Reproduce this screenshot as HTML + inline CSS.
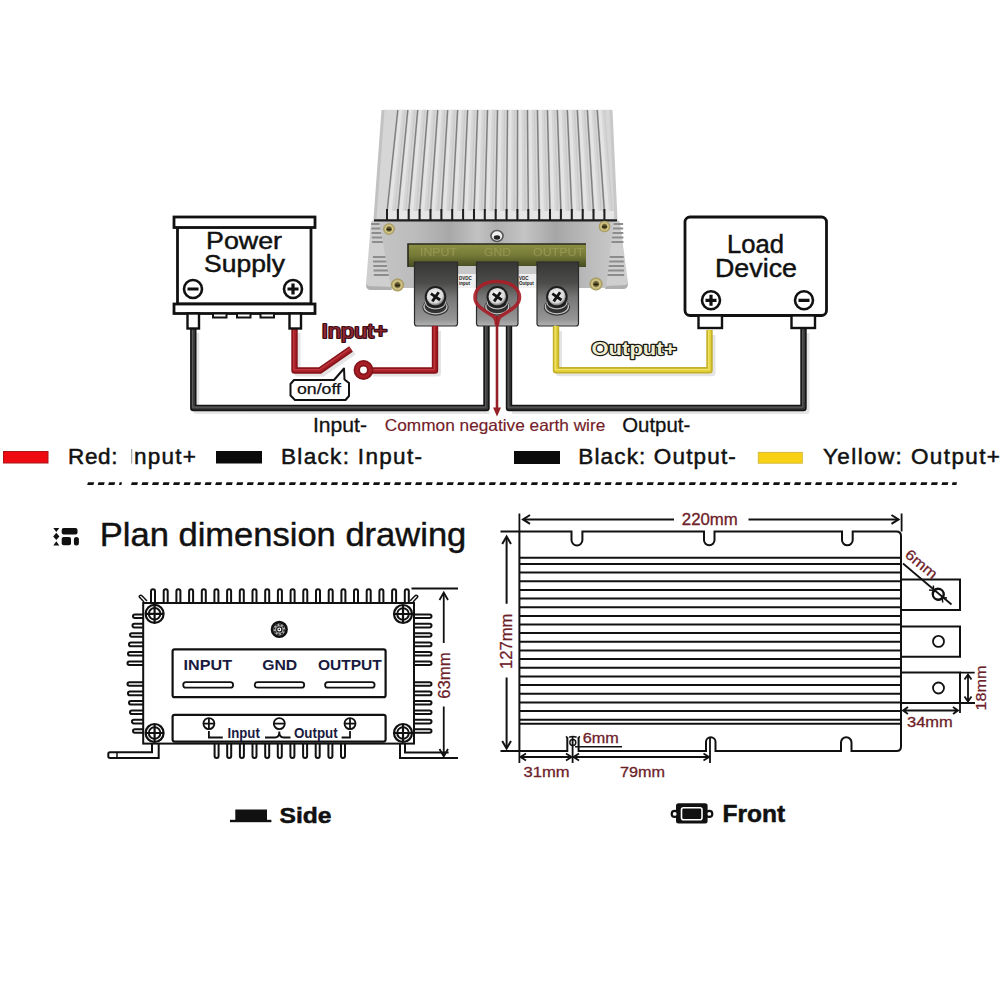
<!DOCTYPE html>
<html><head><meta charset="utf-8">
<style>
html,body{margin:0;padding:0;background:#fff;width:1000px;height:1000px;overflow:hidden}
svg{display:block}
text{font-family:"Liberation Sans",sans-serif}
</style></head>
<body>
<svg width="1000" height="1000" viewBox="0 0 1000 1000">
<defs>
  <filter id="blur1" x="-10%" y="-50%" width="120%" height="200%"><feGaussianBlur stdDeviation="0.65"/></filter>
  <linearGradient id="finG" x1="0" y1="0" x2="0" y2="1">
    <stop offset="0" stop-color="#e4e4e4"/><stop offset="1" stop-color="#dadada"/>
  </linearGradient>
  <linearGradient id="plateG" x1="0" y1="0" x2="1" y2="0">
    <stop offset="0" stop-color="#c4c4c4"/><stop offset="0.15" stop-color="#bcbcbc"/><stop offset="0.3" stop-color="#a8a8a8"/><stop offset="0.42" stop-color="#c2c2c2"/><stop offset="0.5" stop-color="#b0b0b0"/><stop offset="0.62" stop-color="#c4c4c4"/><stop offset="0.75" stop-color="#a6a6a6"/><stop offset="0.9" stop-color="#bcbcbc"/><stop offset="1" stop-color="#c8c8c8"/>
  </linearGradient>
  <linearGradient id="winG" x1="0" y1="0" x2="0" y2="1">
    <stop offset="0" stop-color="#8c9044"/><stop offset="0.5" stop-color="#747a36"/><stop offset="1" stop-color="#464a22"/>
  </linearGradient>
  <linearGradient id="brG" x1="0" y1="0" x2="0" y2="1">
    <stop offset="0" stop-color="#363634"/><stop offset="0.33" stop-color="#4c4c4a"/><stop offset="0.55" stop-color="#767676"/><stop offset="0.9" stop-color="#969696"/><stop offset="1" stop-color="#b4b4b4"/>
  </linearGradient>
  <radialGradient id="scrG" cx="0.45" cy="0.4" r="0.6">
    <stop offset="0" stop-color="#fafafa"/><stop offset="0.75" stop-color="#d8d8d8"/><stop offset="1" stop-color="#666"/>
  </radialGradient>
  <radialGradient id="goldG" cx="0.5" cy="0.5" r="0.5">
    <stop offset="0" stop-color="#4a4020"/><stop offset="0.35" stop-color="#6a6030"/><stop offset="0.6" stop-color="#d8cc90"/><stop offset="1" stop-color="#9a8a4a"/>
  </radialGradient>
  <linearGradient id="sideG" x1="0" y1="0" x2="0" y2="1">
    <stop offset="0" stop-color="#d0d0d0"/><stop offset="1" stop-color="#c0c0c0"/>
  </linearGradient>
</defs>

<g id="device">
<path d="M378,216 L371,222 L366,284 Q366,290 371,290 L392,290 L380,221 Z" fill="#cfcfcf"/>
<path d="M614,216 L620,222 L628,283 Q628,289 623,289 L605,289 L613,221 Z" fill="#cfcfcf"/>
<path d="M366,284 Q366,290 371,290 L392,290 L391,287 L368,286 Z" fill="#9a9a9a" opacity="0.6"/>
<path d="M628,283 Q628,289 623,289 L605,289 L606,286 L626,285 Z" fill="#9a9a9a" opacity="0.6"/>
<line x1="371.2" y1="224" x2="383.6" y2="224" stroke="#8c8c8c" stroke-width="2"/>
<line x1="610.5" y1="224" x2="623.1" y2="224" stroke="#8c8c8c" stroke-width="2"/>
<line x1="371.4" y1="228.5" x2="384.2" y2="228.5" stroke="#8c8c8c" stroke-width="2"/>
<line x1="610.0" y1="228.5" x2="623.2" y2="228.5" stroke="#8c8c8c" stroke-width="2"/>
<line x1="371.6" y1="233" x2="384.8" y2="233" stroke="#8c8c8c" stroke-width="2"/>
<line x1="609.4" y1="233" x2="623.3" y2="233" stroke="#8c8c8c" stroke-width="2"/>
<line x1="371.9" y1="237.5" x2="385.4" y2="237.5" stroke="#8c8c8c" stroke-width="2"/>
<line x1="608.9" y1="237.5" x2="623.4" y2="237.5" stroke="#8c8c8c" stroke-width="2"/>
<line x1="372.1" y1="242" x2="386.1" y2="242" stroke="#8c8c8c" stroke-width="2"/>
<line x1="608.4" y1="242" x2="623.4" y2="242" stroke="#8c8c8c" stroke-width="2"/>
<line x1="372.9" y1="257" x2="388.2" y2="257" stroke="#8c8c8c" stroke-width="2"/>
<line x1="606.6" y1="257" x2="623.7" y2="257" stroke="#8c8c8c" stroke-width="2"/>
<line x1="373.1" y1="261.5" x2="388.8" y2="261.5" stroke="#8c8c8c" stroke-width="2"/>
<line x1="606.0" y1="261.5" x2="623.8" y2="261.5" stroke="#8c8c8c" stroke-width="2"/>
<line x1="373.3" y1="266" x2="389.4" y2="266" stroke="#8c8c8c" stroke-width="2"/>
<line x1="605.5" y1="266" x2="623.9" y2="266" stroke="#8c8c8c" stroke-width="2"/>
<line x1="373.5" y1="270.5" x2="390.1" y2="270.5" stroke="#8c8c8c" stroke-width="2"/>
<line x1="604.9" y1="270.5" x2="624.0" y2="270.5" stroke="#8c8c8c" stroke-width="2"/>
<line x1="373.8" y1="275" x2="390.7" y2="275" stroke="#8c8c8c" stroke-width="2"/>
<line x1="604.4" y1="275" x2="624.1" y2="275" stroke="#8c8c8c" stroke-width="2"/>
<polygon points="383,109.7 611,109.7 616,220 375,220" fill="#d6d6d6"/>
<polygon points="399.0,110 402.0,110 391.6,212 388.3,212" fill="#e4e4e4"/>
<polygon points="404.3,110 405.6,110 395.4,212 394.0,212" fill="#cbcbcb"/>
<line x1="397.8" y1="110" x2="387.0" y2="212" stroke="#808080" stroke-width="1.5"/>
<rect x="388.2" y="211" width="8.2" height="8" fill="#e6e6e6"/>
<line x1="387.0" y1="209" x2="387.0" y2="220" stroke="#1e1e1e" stroke-width="2"/>
<polygon points="409.0,110 412.0,110 402.5,212 399.2,212" fill="#e4e4e4"/>
<polygon points="414.3,110 415.6,110 406.3,212 404.9,212" fill="#cbcbcb"/>
<line x1="407.8" y1="110" x2="397.9" y2="212" stroke="#808080" stroke-width="1.5"/>
<rect x="399.1" y="211" width="8.2" height="8" fill="#e6e6e6"/>
<line x1="397.9" y1="209" x2="397.9" y2="220" stroke="#1e1e1e" stroke-width="2"/>
<polygon points="418.9,110 421.9,110 413.3,212 410.0,212" fill="#e4e4e4"/>
<polygon points="424.2,110 425.5,110 417.1,212 415.7,212" fill="#cbcbcb"/>
<line x1="417.7" y1="110" x2="408.7" y2="212" stroke="#808080" stroke-width="1.5"/>
<rect x="409.9" y="211" width="8.2" height="8" fill="#e6e6e6"/>
<line x1="408.7" y1="209" x2="408.7" y2="220" stroke="#1e1e1e" stroke-width="2"/>
<polygon points="428.9,110 431.9,110 424.2,212 420.9,212" fill="#e4e4e4"/>
<polygon points="434.2,110 435.5,110 428.0,212 426.6,212" fill="#cbcbcb"/>
<line x1="427.7" y1="110" x2="419.6" y2="212" stroke="#808080" stroke-width="1.5"/>
<rect x="420.8" y="211" width="8.2" height="8" fill="#e6e6e6"/>
<line x1="419.6" y1="209" x2="419.6" y2="220" stroke="#1e1e1e" stroke-width="2"/>
<polygon points="438.9,110 441.9,110 435.1,212 431.8,212" fill="#e4e4e4"/>
<polygon points="444.2,110 445.5,110 438.9,212 437.5,212" fill="#cbcbcb"/>
<line x1="437.7" y1="110" x2="430.5" y2="212" stroke="#808080" stroke-width="1.5"/>
<rect x="431.7" y="211" width="8.2" height="8" fill="#e6e6e6"/>
<line x1="430.5" y1="209" x2="430.5" y2="220" stroke="#1e1e1e" stroke-width="2"/>
<polygon points="448.8,110 451.8,110 446.0,212 442.7,212" fill="#e4e4e4"/>
<polygon points="454.1,110 455.4,110 449.8,212 448.4,212" fill="#cbcbcb"/>
<line x1="447.6" y1="110" x2="441.4" y2="212" stroke="#808080" stroke-width="1.5"/>
<rect x="442.6" y="211" width="8.2" height="8" fill="#e6e6e6"/>
<line x1="441.4" y1="209" x2="441.4" y2="220" stroke="#1e1e1e" stroke-width="2"/>
<polygon points="458.8,110 461.8,110 456.8,212 453.5,212" fill="#e4e4e4"/>
<polygon points="464.1,110 465.4,110 460.6,212 459.2,212" fill="#cbcbcb"/>
<line x1="457.6" y1="110" x2="452.2" y2="212" stroke="#808080" stroke-width="1.5"/>
<rect x="453.4" y="211" width="8.2" height="8" fill="#e6e6e6"/>
<line x1="452.2" y1="209" x2="452.2" y2="220" stroke="#1e1e1e" stroke-width="2"/>
<polygon points="468.8,110 471.8,110 467.7,212 464.4,212" fill="#e4e4e4"/>
<polygon points="474.1,110 475.4,110 471.5,212 470.1,212" fill="#cbcbcb"/>
<line x1="467.6" y1="110" x2="463.1" y2="212" stroke="#808080" stroke-width="1.5"/>
<rect x="464.3" y="211" width="8.2" height="8" fill="#e6e6e6"/>
<line x1="463.1" y1="209" x2="463.1" y2="220" stroke="#1e1e1e" stroke-width="2"/>
<polygon points="478.8,110 481.8,110 478.6,212 475.3,212" fill="#e4e4e4"/>
<polygon points="484.1,110 485.4,110 482.4,212 481.0,212" fill="#cbcbcb"/>
<line x1="477.6" y1="110" x2="474.0" y2="212" stroke="#808080" stroke-width="1.5"/>
<rect x="475.2" y="211" width="8.2" height="8" fill="#e6e6e6"/>
<line x1="474.0" y1="209" x2="474.0" y2="220" stroke="#1e1e1e" stroke-width="2"/>
<polygon points="488.7,110 491.7,110 489.4,212 486.1,212" fill="#e4e4e4"/>
<polygon points="494.0,110 495.3,110 493.2,212 491.8,212" fill="#cbcbcb"/>
<line x1="487.5" y1="110" x2="484.8" y2="212" stroke="#808080" stroke-width="1.5"/>
<rect x="486.0" y="211" width="8.2" height="8" fill="#e6e6e6"/>
<line x1="484.8" y1="209" x2="484.8" y2="220" stroke="#1e1e1e" stroke-width="2"/>
<polygon points="498.7,110 501.7,110 500.3,212 497.0,212" fill="#e4e4e4"/>
<polygon points="504.0,110 505.3,110 504.1,212 502.7,212" fill="#cbcbcb"/>
<line x1="497.5" y1="110" x2="495.7" y2="212" stroke="#808080" stroke-width="1.5"/>
<rect x="496.9" y="211" width="8.2" height="8" fill="#e6e6e6"/>
<line x1="495.7" y1="209" x2="495.7" y2="220" stroke="#1e1e1e" stroke-width="2"/>
<polygon points="508.7,110 511.7,110 511.2,212 507.9,212" fill="#e4e4e4"/>
<polygon points="514.0,110 515.3,110 515.0,212 513.6,212" fill="#cbcbcb"/>
<line x1="507.5" y1="110" x2="506.6" y2="212" stroke="#808080" stroke-width="1.5"/>
<rect x="507.8" y="211" width="8.2" height="8" fill="#e6e6e6"/>
<line x1="506.6" y1="209" x2="506.6" y2="220" stroke="#1e1e1e" stroke-width="2"/>
<polygon points="518.7,110 521.7,110 522.0,212 518.7,212" fill="#e4e4e4"/>
<polygon points="524.0,110 525.3,110 525.8,212 524.4,212" fill="#cbcbcb"/>
<line x1="517.5" y1="110" x2="517.4" y2="212" stroke="#808080" stroke-width="1.5"/>
<rect x="518.6" y="211" width="8.2" height="8" fill="#e6e6e6"/>
<line x1="517.4" y1="209" x2="517.4" y2="220" stroke="#1e1e1e" stroke-width="2"/>
<polygon points="528.6,110 531.6,110 532.9,212 529.6,212" fill="#e4e4e4"/>
<polygon points="533.9,110 535.2,110 536.7,212 535.3,212" fill="#cbcbcb"/>
<line x1="527.4" y1="110" x2="528.3" y2="212" stroke="#808080" stroke-width="1.5"/>
<rect x="529.5" y="211" width="8.2" height="8" fill="#e6e6e6"/>
<line x1="528.3" y1="209" x2="528.3" y2="220" stroke="#1e1e1e" stroke-width="2"/>
<polygon points="538.6,110 541.6,110 543.8,212 540.5,212" fill="#e4e4e4"/>
<polygon points="543.9,110 545.2,110 547.6,212 546.2,212" fill="#cbcbcb"/>
<line x1="537.4" y1="110" x2="539.2" y2="212" stroke="#808080" stroke-width="1.5"/>
<rect x="540.4" y="211" width="8.2" height="8" fill="#e6e6e6"/>
<line x1="539.2" y1="209" x2="539.2" y2="220" stroke="#1e1e1e" stroke-width="2"/>
<polygon points="548.6,110 551.6,110 554.6,212 551.3,212" fill="#e4e4e4"/>
<polygon points="553.9,110 555.2,110 558.4,212 557.0,212" fill="#cbcbcb"/>
<line x1="547.4" y1="110" x2="550.0" y2="212" stroke="#808080" stroke-width="1.5"/>
<rect x="551.2" y="211" width="8.2" height="8" fill="#e6e6e6"/>
<line x1="550.0" y1="209" x2="550.0" y2="220" stroke="#1e1e1e" stroke-width="2"/>
<polygon points="558.5,110 561.5,110 565.5,212 562.2,212" fill="#e4e4e4"/>
<polygon points="563.8,110 565.1,110 569.3,212 567.9,212" fill="#cbcbcb"/>
<line x1="557.3" y1="110" x2="560.9" y2="212" stroke="#808080" stroke-width="1.5"/>
<rect x="562.1" y="211" width="8.2" height="8" fill="#e6e6e6"/>
<line x1="560.9" y1="209" x2="560.9" y2="220" stroke="#1e1e1e" stroke-width="2"/>
<polygon points="568.5,110 571.5,110 576.4,212 573.1,212" fill="#e4e4e4"/>
<polygon points="573.8,110 575.1,110 580.2,212 578.8,212" fill="#cbcbcb"/>
<line x1="567.3" y1="110" x2="571.8" y2="212" stroke="#808080" stroke-width="1.5"/>
<rect x="573.0" y="211" width="8.2" height="8" fill="#e6e6e6"/>
<line x1="571.8" y1="209" x2="571.8" y2="220" stroke="#1e1e1e" stroke-width="2"/>
<polygon points="578.5,110 581.5,110 587.3,212 584.0,212" fill="#e4e4e4"/>
<polygon points="583.8,110 585.1,110 591.1,212 589.7,212" fill="#cbcbcb"/>
<line x1="577.3" y1="110" x2="582.7" y2="212" stroke="#808080" stroke-width="1.5"/>
<rect x="583.9" y="211" width="8.2" height="8" fill="#e6e6e6"/>
<line x1="582.7" y1="209" x2="582.7" y2="220" stroke="#1e1e1e" stroke-width="2"/>
<polygon points="588.5,110 591.5,110 598.1,212 594.8,212" fill="#e4e4e4"/>
<polygon points="593.8,110 595.1,110 601.9,212 600.5,212" fill="#cbcbcb"/>
<line x1="587.3" y1="110" x2="593.5" y2="212" stroke="#808080" stroke-width="1.5"/>
<rect x="594.7" y="211" width="8.2" height="8" fill="#e6e6e6"/>
<line x1="593.5" y1="209" x2="593.5" y2="220" stroke="#1e1e1e" stroke-width="2"/>
<polygon points="598.4,110 601.4,110 609.0,212 605.7,212" fill="#e4e4e4"/>
<polygon points="603.7,110 605.0,110 612.8,212 611.4,212" fill="#cbcbcb"/>
<line x1="597.2" y1="110" x2="604.4" y2="212" stroke="#808080" stroke-width="1.5"/>
<rect x="605.6" y="211" width="8.2" height="8" fill="#e6e6e6"/>
<line x1="604.4" y1="209" x2="604.4" y2="220" stroke="#1e1e1e" stroke-width="2"/>
<line x1="383" y1="110" x2="375" y2="219" stroke="#c2c2c2" stroke-width="3"/>
<line x1="611" y1="110" x2="616" y2="219" stroke="#c8c8c8" stroke-width="3"/>
<polygon points="379,221 614,221 606,288 391,288" fill="url(#plateG)"/>
<line x1="374" y1="220.3" x2="617" y2="220.3" stroke="#1e1e1e" stroke-width="2.2"/>
<rect x="408" y="244" width="178" height="23" fill="url(#winG)"/>
<path d="M408,267 V244 H586" fill="none" stroke="#2a2a20" stroke-width="1.6"/>
<g filter="url(#blur1)">
<text x="420" y="255.5" font-size="11" fill="#b4b270" opacity="0.45" font-family="Liberation Serif" textLength="37" lengthAdjust="spacingAndGlyphs">INPUT</text>
<text x="484" y="255.5" font-size="11" fill="#b4b270" opacity="0.45" font-family="Liberation Serif" textLength="27" lengthAdjust="spacingAndGlyphs">GND</text>
<text x="533" y="255.5" font-size="11" fill="#b4b270" opacity="0.45" font-family="Liberation Serif" textLength="51" lengthAdjust="spacingAndGlyphs">OUTPUT</text>
</g>
<ellipse cx="497" cy="236" rx="6" ry="5.5" fill="#f0f0f0" stroke="#555" stroke-width="1.6"/>
<ellipse cx="497" cy="237.5" rx="3.2" ry="2.2" fill="#222"/>
<circle cx="389" cy="229" r="5.8" fill="url(#goldG)"/>
<path d="M386.5,229.5 H391.5" stroke="#2a2410" stroke-width="1.4"/>
<circle cx="397.5" cy="285" r="6.5" fill="url(#goldG)"/>
<path d="M395.0,285.5 H400.0" stroke="#2a2410" stroke-width="1.4"/>
<circle cx="604.5" cy="226.5" r="5.8" fill="url(#goldG)"/>
<path d="M602.0,227.0 H607.0" stroke="#2a2410" stroke-width="1.4"/>
<circle cx="596" cy="284" r="6.5" fill="url(#goldG)"/>
<path d="M593.5,284.5 H598.5" stroke="#2a2410" stroke-width="1.4"/>
<rect x="457" y="266" width="20" height="8" fill="#c8c8c8"/>
<rect x="518" y="266" width="19" height="8" fill="#c8c8c8"/>
<rect x="457" y="274" width="20" height="14" fill="#f0f0f0"/>
<rect x="518" y="274" width="19" height="14" fill="#f0f0f0"/>
<text x="459" y="280" font-size="4.5" fill="#222" font-weight="bold">DVDC</text><text x="459" y="285" font-size="4.5" fill="#222" font-weight="bold">input</text>
<text x="519" y="280" font-size="4.5" fill="#222" font-weight="bold">VDC</text><text x="519" y="285" font-size="4.5" fill="#222" font-weight="bold">Output</text>
<path d="M414.5,262 H457.5 V323.5 Q457.5,326 455.0,326 H417.0 Q414.5,326 414.5,323.5 Z" fill="url(#brG)" stroke="#2a2a2a" stroke-width="1.2"/>
<path d="M476.5,262 H518 V323.5 Q518,326 515.5,326 H479.0 Q476.5,326 476.5,323.5 Z" fill="url(#brG)" stroke="#2a2a2a" stroke-width="1.2"/>
<path d="M537,262 H578.5 V323.5 Q578.5,326 576.0,326 H539.5 Q537,326 537,323.5 Z" fill="url(#brG)" stroke="#2a2a2a" stroke-width="1.2"/>
<ellipse cx="435.5" cy="307.3" rx="13" ry="8.5" fill="#333"/>
<ellipse cx="435.5" cy="306.8" rx="11.5" ry="7" fill="none" stroke="#c4c4c4" stroke-width="1.3"/>
<ellipse cx="435.5" cy="303.8" rx="11" ry="7" fill="#2a2a2a"/>
<ellipse cx="435.5" cy="302.8" rx="10" ry="6" fill="none" stroke="#b8b8b8" stroke-width="1.2"/>
<circle cx="435.5" cy="296.8" r="10.8" fill="#1e1e1e"/>
<circle cx="435.5" cy="296.8" r="8.8" fill="url(#scrG)"/>
<path d="M430.9,293.6 L440.1,300.0 M438.7,292.2 L432.3,301.40000000000003" stroke="#141414" stroke-width="2.8"/>
<ellipse cx="497.3" cy="307.3" rx="13" ry="8.5" fill="#333"/>
<ellipse cx="497.3" cy="306.8" rx="11.5" ry="7" fill="none" stroke="#c4c4c4" stroke-width="1.3"/>
<ellipse cx="497.3" cy="303.8" rx="11" ry="7" fill="#2a2a2a"/>
<ellipse cx="497.3" cy="302.8" rx="10" ry="6" fill="none" stroke="#b8b8b8" stroke-width="1.2"/>
<circle cx="497.3" cy="296.8" r="10.8" fill="#1e1e1e"/>
<circle cx="497.3" cy="296.8" r="8.8" fill="url(#scrG)"/>
<path d="M492.7,293.6 L501.90000000000003,300.0 M500.5,292.2 L494.1,301.40000000000003" stroke="#141414" stroke-width="2.8"/>
<ellipse cx="556.9" cy="307.3" rx="13" ry="8.5" fill="#333"/>
<ellipse cx="556.9" cy="306.8" rx="11.5" ry="7" fill="none" stroke="#c4c4c4" stroke-width="1.3"/>
<ellipse cx="556.9" cy="303.8" rx="11" ry="7" fill="#2a2a2a"/>
<ellipse cx="556.9" cy="302.8" rx="10" ry="6" fill="none" stroke="#b8b8b8" stroke-width="1.2"/>
<circle cx="556.9" cy="296.8" r="10.8" fill="#1e1e1e"/>
<circle cx="556.9" cy="296.8" r="8.8" fill="url(#scrG)"/>
<path d="M552.3,293.6 L561.5,300.0 M560.1,292.2 L553.6999999999999,301.40000000000003" stroke="#141414" stroke-width="2.8"/>
</g>
<g opacity="0.10" transform="translate(3,3)">
<polyline points="193.3,330 193.3,408 486.5,408" fill="none" stroke="#000" stroke-width="6" stroke-linejoin="round"/>
<polyline points="509,408 803.5,408 803.5,330" fill="none" stroke="#000" stroke-width="6" stroke-linejoin="round"/>
<polyline points="294.5,330 294.5,370.5 320,370.5 351,349" fill="none" stroke="#000" stroke-width="6" stroke-linejoin="round"/>
<polyline points="370,370.5 435,370.5 435,328" fill="none" stroke="#000" stroke-width="6" stroke-linejoin="round"/>
<polyline points="556,328 556,370.3 709.5,370.3 709.5,332" fill="none" stroke="#000" stroke-width="6" stroke-linejoin="round"/>
</g>
<polyline points="193.3,328 193.3,408 486.5,408 486.5,326" fill="none" stroke="#141414" stroke-width="6.4" stroke-linejoin="round"/>
<polyline points="193.3,328 193.3,408 486.5,408 486.5,326" fill="none" stroke="#3a3a3a" stroke-width="3.2" stroke-linejoin="round"/>
<polyline points="192.5,327.2 192.5,407.2 485.7,407.2 485.7,325.2" fill="none" stroke="#5a5a5a" stroke-width="1.2" stroke-linejoin="round"/>
<polyline points="509,326 509,408 803.5,408 803.5,328" fill="none" stroke="#141414" stroke-width="6.4" stroke-linejoin="round"/>
<polyline points="509,326 509,408 803.5,408 803.5,328" fill="none" stroke="#3a3a3a" stroke-width="3.2" stroke-linejoin="round"/>
<polyline points="508.2,325.2 508.2,407.2 802.7,407.2 802.7,327.2" fill="none" stroke="#5a5a5a" stroke-width="1.2" stroke-linejoin="round"/>
<polyline points="294.5,328 294.5,370.5 320,370.5 351,349" fill="none" stroke="#86141a" stroke-width="6.4" stroke-linejoin="round"/>
<polyline points="294.5,328 294.5,370.5 320,370.5 351,349" fill="none" stroke="#a81e26" stroke-width="3.2" stroke-linejoin="round"/>
<polyline points="293.7,327.2 293.7,369.7 319.2,369.7 350.2,348.2" fill="none" stroke="#c23a42" stroke-width="1.2" stroke-linejoin="round"/>
<polyline points="370,370.5 435,370.5 435,326" fill="none" stroke="#86141a" stroke-width="6.4" stroke-linejoin="round"/>
<polyline points="370,370.5 435,370.5 435,326" fill="none" stroke="#a81e26" stroke-width="3.2" stroke-linejoin="round"/>
<polyline points="369.2,369.7 434.2,369.7 434.2,325.2" fill="none" stroke="#c23a42" stroke-width="1.2" stroke-linejoin="round"/>
<circle cx="363.5" cy="370" r="6.7" fill="none" stroke="#86141a" stroke-width="6.5"/>
<circle cx="363.5" cy="370" r="6.7" fill="none" stroke="#a81e26" stroke-width="3"/>
<polyline points="556,326 556,370.3 709.5,370.3 709.5,330" fill="none" stroke="#c4b028" stroke-width="6.4" stroke-linejoin="round"/>
<polyline points="556,326 556,370.3 709.5,370.3 709.5,330" fill="none" stroke="#e2d038" stroke-width="3.2" stroke-linejoin="round"/>
<polyline points="555.2,325.2 555.2,369.5 708.7,369.5 708.7,329.2" fill="none" stroke="#f2e470" stroke-width="1.2" stroke-linejoin="round"/>
<path d="M497,281.5 C483,281.5 475,288.5 475,297.5 C475,306 485,311 493,316 Q496,318 496.5,324 L497.5,324 Q498,318 501,316 C509,311 519.5,306 519.5,297.5 C519.5,288.5 511,281.5 497,281.5 Z" fill="none" stroke="#a82028" stroke-width="3.6" stroke-opacity="0.92"/>
<line x1="497" y1="316" x2="497" y2="410" stroke="#962028" stroke-width="2.6"/>
<path d="M493,407.5 L497,416.5 L501,407.5 Z" fill="#962028"/>
<g fill="#fff" stroke="#111" stroke-width="2.8">
<rect x="177.5" y="227" width="133.5" height="77"/>
<rect x="174" y="217" width="141" height="10.5"/>
<rect x="174" y="304" width="141" height="9.5"/>
<rect x="187.5" y="313.5" width="11.5" height="15" stroke-width="2.4"/>
<rect x="289.5" y="313.5" width="11.5" height="15" stroke-width="2.4"/>
<rect x="213" y="313.5" width="13.5" height="4" stroke-width="2"/>
<rect x="237" y="313.5" width="13.5" height="4" stroke-width="2"/>
<rect x="260.5" y="313.5" width="13.5" height="4" stroke-width="2"/>
<circle cx="193" cy="289" r="9" stroke-width="2.6"/>
<circle cx="293" cy="289" r="9" stroke-width="2.6"/>
</g>
<path d="M187.5,289 H198.5 M287.5,289 H298.5 M293,283.5 V294.5" stroke="#111" stroke-width="3.2"/>
<text x="244" y="248.5" font-size="23" fill="#111" text-anchor="middle" textLength="76" lengthAdjust="spacingAndGlyphs" stroke="#111" stroke-width="0.45" >Power</text>
<text x="244.5" y="272.3" font-size="23" fill="#111" text-anchor="middle" textLength="81" lengthAdjust="spacingAndGlyphs" stroke="#111" stroke-width="0.45" >Supply</text>
<g fill="#fff" stroke="#111" stroke-width="2.8">
<rect x="685" y="217" width="141.5" height="98.5" rx="5"/>
<rect x="698.5" y="315.5" width="23.5" height="12.5" stroke-width="2.4"/>
<rect x="791.5" y="315.5" width="23.5" height="12.5" stroke-width="2.4"/>
<circle cx="711" cy="300.3" r="9" stroke-width="2.6"/>
<circle cx="804" cy="300.3" r="9" stroke-width="2.6"/>
</g>
<path d="M705.5,300.3 H716.5 M711,294.8 V305.8 M798.5,300.3 H809.5" stroke="#111" stroke-width="3.2"/>
<text x="755.5" y="253" font-size="25" fill="#111" text-anchor="middle" textLength="57" lengthAdjust="spacingAndGlyphs" stroke="#111" stroke-width="0.45" >Load</text>
<text x="756" y="276.5" font-size="25" fill="#111" text-anchor="middle" textLength="82" lengthAdjust="spacingAndGlyphs" stroke="#111" stroke-width="0.45" >Device</text>
<text x="321.5" y="337.5" font-size="19.5" fill="#8c2632" text-anchor="start" textLength="66" lengthAdjust="spacingAndGlyphs" stroke="#3a0c12" stroke-width="2.2" paint-order="stroke" stroke-linejoin="round">Input+</text>
<text x="591.5" y="354.5" font-size="19" fill="#f0eed0" text-anchor="start" font-weight="bold" textLength="85" lengthAdjust="spacingAndGlyphs" stroke="#1a1a14" stroke-width="2.4" paint-order="stroke" stroke-linejoin="round">Output+</text>
<path d="M294,380 H334 L344,368.5 L344.5,379.5 L349,383 V396 L345.5,400 H295 L290.5,395.5 V384 Z" fill="#fff" stroke="#111" stroke-width="2" stroke-linejoin="round"/>
<text x="297" y="393.5" font-size="14.5" fill="#111" text-anchor="start" textLength="44" lengthAdjust="spacingAndGlyphs" stroke="#111" stroke-width="0.25" >on/off</text>
<text x="313" y="431.6" font-size="20" fill="#111" text-anchor="start" textLength="54" lengthAdjust="spacingAndGlyphs" stroke="#111" stroke-width="0.3" >Input-</text>
<text x="384.8" y="430.9" font-size="16.5" fill="#742028" text-anchor="start" textLength="220.5" lengthAdjust="spacingAndGlyphs" stroke="#742028" stroke-width="0.15" >Common negative earth wire</text>
<text x="622.2" y="431.6" font-size="20" fill="#111" text-anchor="start" textLength="68" lengthAdjust="spacingAndGlyphs" stroke="#111" stroke-width="0.3" >Output-</text>
<rect x="3.5" y="451.5" width="44.5" height="11.5" fill="#ee0a10" stroke="#a8161c" stroke-width="1"/>
<text x="68" y="463.6" font-size="22.5" fill="#111" text-anchor="start" textLength="49.5" lengthAdjust="spacing" stroke="#111" stroke-width="0.5" >Red:</text>
<rect x="131" y="449" width="1.3" height="14.5" fill="#aaa"/>
<text x="134" y="463.6" font-size="22.5" fill="#111" text-anchor="start" textLength="62" lengthAdjust="spacing" stroke="#111" stroke-width="0.5" >nput+</text>
<rect x="216" y="451" width="46" height="12.5" fill="#0a0a0a"/>
<text x="281" y="463.6" font-size="22.5" fill="#111" text-anchor="start" textLength="141" lengthAdjust="spacing" stroke="#111" stroke-width="0.5" >Black: Input-</text>
<rect x="514" y="451" width="46" height="13" fill="#0a0a0a"/>
<text x="578.3" y="463.6" font-size="22.5" fill="#111" text-anchor="start" textLength="157.5" lengthAdjust="spacing" stroke="#111" stroke-width="0.5" >Black: Output-</text>
<rect x="758.3" y="452.4" width="44" height="10.8" fill="#f8d014" stroke="#d4bc3c" stroke-width="1"/>
<text x="823" y="463.6" font-size="22.5" fill="#111" text-anchor="start" textLength="177" lengthAdjust="spacing" stroke="#111" stroke-width="0.5" >Yellow: Output+</text>
<polygon points="88.0,482.3 94.2,482.3 93.4,484.9 87.2,484.9" fill="#111"/>
<polygon points="98.5,482.3 104.7,482.3 103.9,484.9 97.7,484.9" fill="#111"/>
<polygon points="109.0,482.3 115.2,482.3 114.4,484.9 108.2,484.9" fill="#111"/>
<polygon points="119.6,482.3 122,482.3 121.4,484.9 119,484.9" fill="#111"/>
<path d="M131.80,482.3 H138.00 L137.20,484.9 H131.00 Z M142.33,482.3 H148.53 L147.72,484.9 H141.53 Z M152.85,482.3 H159.05 L158.25,484.9 H152.05 Z M163.38,482.3 H169.57 L168.77,484.9 H162.57 Z M173.90,482.3 H180.10 L179.30,484.9 H173.10 Z M184.43,482.3 H190.62 L189.82,484.9 H183.62 Z M194.95,482.3 H201.15 L200.35,484.9 H194.15 Z M205.48,482.3 H211.68 L210.88,484.9 H204.68 Z M216.00,482.3 H222.20 L221.40,484.9 H215.20 Z M226.53,482.3 H232.73 L231.93,484.9 H225.73 Z M237.05,482.3 H243.25 L242.45,484.9 H236.25 Z M247.58,482.3 H253.78 L252.97,484.9 H246.78 Z M258.10,482.3 H264.30 L263.50,484.9 H257.30 Z M268.63,482.3 H274.83 L274.03,484.9 H267.83 Z M279.15,482.3 H285.35 L284.55,484.9 H278.35 Z M289.68,482.3 H295.88 L295.07,484.9 H288.88 Z M300.20,482.3 H306.40 L305.60,484.9 H299.40 Z M310.73,482.3 H316.93 L316.12,484.9 H309.93 Z M321.25,482.3 H327.45 L326.65,484.9 H320.45 Z M331.78,482.3 H337.98 L337.18,484.9 H330.98 Z M342.30,482.3 H348.50 L347.70,484.9 H341.50 Z M352.82,482.3 H359.02 L358.22,484.9 H352.02 Z M363.35,482.3 H369.55 L368.75,484.9 H362.55 Z M373.88,482.3 H380.08 L379.28,484.9 H373.08 Z M384.40,482.3 H390.60 L389.80,484.9 H383.60 Z M394.93,482.3 H401.12 L400.32,484.9 H394.12 Z M405.45,482.3 H411.65 L410.85,484.9 H404.65 Z M415.98,482.3 H422.18 L421.38,484.9 H415.18 Z M426.50,482.3 H432.70 L431.90,484.9 H425.70 Z M437.03,482.3 H443.23 L442.43,484.9 H436.23 Z M447.55,482.3 H453.75 L452.95,484.9 H446.75 Z M458.08,482.3 H464.28 L463.48,484.9 H457.28 Z M468.60,482.3 H474.80 L474.00,484.9 H467.80 Z M479.12,482.3 H485.32 L484.52,484.9 H478.32 Z M489.65,482.3 H495.85 L495.05,484.9 H488.85 Z M500.18,482.3 H506.38 L505.57,484.9 H499.38 Z M510.70,482.3 H516.90 L516.10,484.9 H509.90 Z M521.22,482.3 H527.42 L526.62,484.9 H520.42 Z M531.75,482.3 H537.95 L537.15,484.9 H530.95 Z M542.27,482.3 H548.48 L547.68,484.9 H541.48 Z M552.80,482.3 H559.00 L558.20,484.9 H552.00 Z M563.33,482.3 H569.53 L568.73,484.9 H562.53 Z M573.85,482.3 H580.05 L579.25,484.9 H573.05 Z M584.38,482.3 H590.58 L589.78,484.9 H583.58 Z M594.90,482.3 H601.10 L600.30,484.9 H594.10 Z M605.42,482.3 H611.62 L610.83,484.9 H604.62 Z M615.95,482.3 H622.15 L621.35,484.9 H615.15 Z M626.47,482.3 H632.67 L631.88,484.9 H625.67 Z M637.00,482.3 H643.20 L642.40,484.9 H636.20 Z M647.52,482.3 H653.73 L652.93,484.9 H646.73 Z M658.05,482.3 H664.25 L663.45,484.9 H657.25 Z M668.57,482.3 H674.77 L673.98,484.9 H667.77 Z M679.10,482.3 H685.30 L684.50,484.9 H678.30 Z M689.62,482.3 H695.83 L695.03,484.9 H688.83 Z M700.15,482.3 H706.35 L705.55,484.9 H699.35 Z M710.67,482.3 H716.88 L716.08,484.9 H709.88 Z M721.20,482.3 H727.40 L726.60,484.9 H720.40 Z M731.73,482.3 H737.93 L737.13,484.9 H730.93 Z M742.25,482.3 H748.45 L747.65,484.9 H741.45 Z M752.77,482.3 H758.98 L758.18,484.9 H751.98 Z M763.30,482.3 H769.50 L768.70,484.9 H762.50 Z M773.82,482.3 H780.02 L779.23,484.9 H773.02 Z M784.35,482.3 H790.55 L789.75,484.9 H783.55 Z M794.88,482.3 H801.08 L800.28,484.9 H794.08 Z M805.40,482.3 H811.60 L810.80,484.9 H804.60 Z M815.92,482.3 H822.12 L821.33,484.9 H815.12 Z M826.45,482.3 H832.65 L831.85,484.9 H825.65 Z M836.98,482.3 H843.18 L842.38,484.9 H836.18 Z M847.50,482.3 H853.70 L852.90,484.9 H846.70 Z M858.02,482.3 H864.23 L863.43,484.9 H857.23 Z M868.55,482.3 H874.75 L873.95,484.9 H867.75 Z M879.07,482.3 H885.27 L884.48,484.9 H878.27 Z M889.60,482.3 H895.80 L895.00,484.9 H888.80 Z M900.12,482.3 H906.33 L905.53,484.9 H899.33 Z M910.65,482.3 H916.85 L916.05,484.9 H909.85 Z M921.17,482.3 H927.38 L926.58,484.9 H920.38 Z M931.70,482.3 H937.90 L937.10,484.9 H930.90 Z M942.23,482.3 H948.43 L947.63,484.9 H941.43 Z M952.4,482.3 H957 L956.4,484.9 H952 Z" fill="#111"/>
<g fill="#111">
<path d="M53.3,528 H59.3 L56.3,532 Z M56.3,532.8 L59.4,536.4 L56.3,540 L53.2,536.4 Z M56.3,541.2 L59.3,545.6 H53.3 Z"/>
<rect x="61.7" y="528.1" width="15.8" height="6.5" rx="2"/>
<rect x="61.7" y="536.9" width="9.3" height="8.4" rx="2"/>
<rect x="73.9" y="537" width="5" height="8.6" rx="2.5"/>
</g>
<text x="99.8" y="546" font-size="34" fill="#111" text-anchor="start" textLength="366.5" lengthAdjust="spacingAndGlyphs" stroke="#111" stroke-width="0.45" >Plan dimension drawing</text>
<g fill="none" stroke="#111" stroke-width="2">
<path d="M151.0,603 V591.3 A2,2 0 0 1 155.0,591.3 V603"/>
<path d="M163.7,603 V591.3 A2,2 0 0 1 167.7,591.3 V603"/>
<path d="M176.4,603 V591.3 A2,2 0 0 1 180.4,591.3 V603"/>
<path d="M189.1,603 V591.3 A2,2 0 0 1 193.1,591.3 V603"/>
<path d="M201.8,603 V591.3 A2,2 0 0 1 205.8,591.3 V603"/>
<path d="M214.4,603 V591.3 A2,2 0 0 1 218.4,591.3 V603"/>
<path d="M227.1,603 V591.3 A2,2 0 0 1 231.1,591.3 V603"/>
<path d="M239.8,603 V591.3 A2,2 0 0 1 243.8,591.3 V603"/>
<path d="M252.5,603 V591.3 A2,2 0 0 1 256.5,591.3 V603"/>
<path d="M265.2,603 V591.3 A2,2 0 0 1 269.2,591.3 V603"/>
<path d="M277.9,603 V591.3 A2,2 0 0 1 281.9,591.3 V603"/>
<path d="M290.6,603 V591.3 A2,2 0 0 1 294.6,591.3 V603"/>
<path d="M303.3,603 V591.3 A2,2 0 0 1 307.3,591.3 V603"/>
<path d="M316.0,603 V591.3 A2,2 0 0 1 320.0,591.3 V603"/>
<path d="M328.7,603 V591.3 A2,2 0 0 1 332.7,591.3 V603"/>
<path d="M341.4,603 V591.3 A2,2 0 0 1 345.4,591.3 V603"/>
<path d="M354.0,603 V591.3 A2,2 0 0 1 358.0,591.3 V603"/>
<path d="M366.7,603 V591.3 A2,2 0 0 1 370.7,591.3 V603"/>
<path d="M379.4,603 V591.3 A2,2 0 0 1 383.4,591.3 V603"/>
<path d="M392.1,603 V591.3 A2,2 0 0 1 396.1,591.3 V603"/>
<path d="M404.8,603 V591.3 A2,2 0 0 1 408.8,591.3 V603"/>
<path d="M214.6,743.6 V756 A2,2 0 0 0 218.6,756 V743.6"/>
<path d="M227.2,743.6 V756 A2,2 0 0 0 231.2,756 V743.6"/>
<path d="M239.9,743.6 V756 A2,2 0 0 0 243.9,756 V743.6"/>
<path d="M252.5,743.6 V756 A2,2 0 0 0 256.5,756 V743.6"/>
<path d="M265.2,743.6 V756 A2,2 0 0 0 269.2,756 V743.6"/>
<path d="M277.8,743.6 V756 A2,2 0 0 0 281.8,756 V743.6"/>
<path d="M290.4,743.6 V756 A2,2 0 0 0 294.4,756 V743.6"/>
<path d="M303.1,743.6 V756 A2,2 0 0 0 307.1,756 V743.6"/>
<path d="M315.7,743.6 V756 A2,2 0 0 0 319.7,756 V743.6"/>
<path d="M328.4,743.6 V756 A2,2 0 0 0 332.4,756 V743.6"/>
<path d="M341.0,743.6 V756 A2,2 0 0 0 345.0,756 V743.6"/>
<path d="M143,614.4 H134.8 A1.8,1.8 0 0 0 134.8,618.0 H143"/>
<path d="M414,614.4 H429.7 A1.8,1.8 0 0 1 429.7,618.0 H414"/>
<path d="M143,623.8 H134.3 A1.8,1.8 0 0 0 134.3,627.4 H143"/>
<path d="M414,623.8 H429.7 A1.8,1.8 0 0 1 429.7,627.4 H414"/>
<path d="M143,633.2 H131.8 A1.8,1.8 0 0 0 131.8,636.8 H143"/>
<path d="M414,633.2 H429.7 A1.8,1.8 0 0 1 429.7,636.8 H414"/>
<path d="M143,642.6 H130.8 A1.8,1.8 0 0 0 130.8,646.2 H143"/>
<path d="M414,642.6 H429.7 A1.8,1.8 0 0 1 429.7,646.2 H414"/>
<path d="M143,652.0 H129.8 A1.8,1.8 0 0 0 129.8,655.6 H143"/>
<path d="M414,652.0 H429.7 A1.8,1.8 0 0 1 429.7,655.6 H414"/>
<path d="M143,661.4 H129.3 A1.8,1.8 0 0 0 129.3,665.0 H143"/>
<path d="M414,661.4 H429.7 A1.8,1.8 0 0 1 429.7,665.0 H414"/>
<path d="M143,682.2 H129.3 A1.8,1.8 0 0 0 129.3,685.8 H143"/>
<path d="M414,682.2 H429.7 A1.8,1.8 0 0 1 429.7,685.8 H414"/>
<path d="M143,691.6 H129.8 A1.8,1.8 0 0 0 129.8,695.2 H143"/>
<path d="M414,691.6 H429.7 A1.8,1.8 0 0 1 429.7,695.2 H414"/>
<path d="M143,701.0 H130.8 A1.8,1.8 0 0 0 130.8,704.6 H143"/>
<path d="M414,701.0 H429.7 A1.8,1.8 0 0 1 429.7,704.6 H414"/>
<path d="M143,710.4 H131.8 A1.8,1.8 0 0 0 131.8,714.0 H143"/>
<path d="M414,710.4 H429.7 A1.8,1.8 0 0 1 429.7,714.0 H414"/>
<path d="M143,719.8 H133.8 A1.8,1.8 0 0 0 133.8,723.4 H143"/>
<path d="M414,719.8 H429.7 A1.8,1.8 0 0 1 429.7,723.4 H414"/>
<path d="M143,729.2 H134.8 A1.8,1.8 0 0 0 134.8,732.8 H143"/>
<path d="M414,729.2 H429.7 A1.8,1.8 0 0 1 429.7,732.8 H414"/>
<rect x="143.2" y="603" width="270.8" height="140.6" fill="#fff"/>
<path d="M144,602 L139.8,597.6 Q138.6,596.4 139.8,595.6 Q141,594.8 142.2,596 L147,601" stroke-width="1.5" fill="#fff"/>
<path d="M413,602 L417.2,597.6 Q418.4,596.4 417.2,595.6 Q416,594.8 414.8,596 L410,601" stroke-width="1.5" fill="#fff"/>
<rect x="172.6" y="649.3" width="213" height="47.9" rx="2" stroke-width="2.2"/>
<rect x="172.6" y="714.8" width="213" height="26.8" rx="2" stroke-width="2.2"/>
<rect x="183.2" y="682.2" width="49.9" height="5.5" rx="2.75" stroke-width="1.8"/>
<rect x="254.7" y="682.2" width="49.5" height="5.5" rx="2.75" stroke-width="1.8"/>
<rect x="325.1" y="682.2" width="49.5" height="5.5" rx="2.75" stroke-width="1.8"/>
<path d="M152,743.6 V752.2 H110 Q108.3,752.2 108.3,754 V756.3 Q108.3,758 110,758 H158.7 V743.6" stroke-width="2"/>
<path d="M117,752.2 V758" stroke-width="1.5"/>
<path d="M405,743.6 V752.5 H448.6 M400,743.6 V758 H458" stroke-width="2"/>
<path d="M411.5,588.5 H458 M443.75,593 V643 M443.75,706.4 V756" stroke-width="1.8"/>
<path d="M439.5,600 L443.75,592.5 L448,600 M439.5,749 L443.75,756.5 L448,749" stroke-width="1.8"/>
<circle cx="154.6" cy="613.8" r="9" fill="#fff" stroke-width="2.2"/>
<circle cx="154.6" cy="613.8" r="5.8" stroke-width="2"/>
<path d="M154.6,604.8 V622.8 M145.6,613.8 H163.6" stroke-width="2.2"/>
<circle cx="403" cy="614" r="9" fill="#fff" stroke-width="2.2"/>
<circle cx="403" cy="614" r="5.8" stroke-width="2"/>
<path d="M403,605 V623 M394,614 H412" stroke-width="2.2"/>
<circle cx="154.6" cy="733" r="9" fill="#fff" stroke-width="2.2"/>
<circle cx="154.6" cy="733" r="5.8" stroke-width="2"/>
<path d="M154.6,724 V742 M145.6,733 H163.6" stroke-width="2.2"/>
<circle cx="403" cy="733" r="9" fill="#fff" stroke-width="2.2"/>
<circle cx="403" cy="733" r="5.8" stroke-width="2"/>
<path d="M403,724 V742 M394,733 H412" stroke-width="2.2"/>
<circle cx="279.3" cy="629.4" r="7.3" fill="#b0b0b0" stroke-width="2.6"/>
<circle cx="279.3" cy="629.4" r="5" fill="none" stroke="#333" stroke-width="1.8" stroke-dasharray="2.2,1.6"/>
<circle cx="279.3" cy="629.4" r="2.6" fill="#fff" stroke="#1a1a1a" stroke-width="1.2"/>
<circle cx="279.3" cy="629.4" r="0.8" fill="#111" stroke="none"/>
<circle cx="208.9" cy="723.6" r="5.5" stroke-width="1.8"/>
<path d="M203.4,723.6 H214.4" stroke-width="1.8"/>
<path d="M208.9,718.1 V729.1" stroke-width="1.8"/>
<circle cx="279.3" cy="723.6" r="5.5" stroke-width="1.8"/>
<path d="M273.8,723.6 H284.8" stroke-width="1.8"/>
<circle cx="350" cy="723.6" r="5.5" stroke-width="1.8"/>
<path d="M344.5,723.6 H355.5" stroke-width="1.8"/>
<path d="M350,718.1 V729.1" stroke-width="1.8"/>
<path d="M208.9,731 V737.5 H222.8 M265,737.5 H275 Q279.3,737.5 279.3,731.5 Q279.3,737.5 283.6,737.5 H290.5 M341.6,737.5 H350 V731" stroke-width="1.8"/>
</g>
<text x="183.6" y="670.4" font-size="14.8" fill="#1a1a40" text-anchor="start" font-weight="bold" textLength="48.5" lengthAdjust="spacingAndGlyphs" >INPUT</text>
<text x="262.2" y="670.4" font-size="14.8" fill="#1a1a40" text-anchor="start" font-weight="bold" textLength="35" lengthAdjust="spacingAndGlyphs" >GND</text>
<text x="317.9" y="670.4" font-size="14.8" fill="#1a1a40" text-anchor="start" font-weight="bold" textLength="63.8" lengthAdjust="spacingAndGlyphs" >OUTPUT</text>
<text x="227.6" y="737.9" font-size="14" fill="#1a1a40" text-anchor="start" font-weight="bold" textLength="32.2" lengthAdjust="spacingAndGlyphs" >Input</text>
<text x="293.9" y="737.9" font-size="14" fill="#1a1a40" text-anchor="start" font-weight="bold" textLength="43.8" lengthAdjust="spacingAndGlyphs" >Output</text>
<text transform="translate(449.6,675.5) rotate(-90)" font-size="16" fill="#6c2028" text-anchor="middle" textLength="46.5" lengthAdjust="spacingAndGlyphs" stroke="#6c2028" stroke-width="0.25">63mm</text>
<g fill="none" stroke="#111" stroke-width="2">
<path d="M519.4,531.5 H571.5 V540 A5.45,5.45 0 0 0 582.4,540 V531.5 H704 V540 A5.25,5.25 0 0 0 714.5,540 V531.5 H842 V540 A5.35,5.35 0 0 0 852.7,540 V531.5 H896.5 Q901,531.5 901,536 V746.5 Q901,751 896.5,751 H851.5 V742.5 A5.25,5.25 0 0 0 841,742.5 V751 H715.5 V742 A4.75,4.75 0 0 0 706,742 V751 H578.6 V737.5 M567.3,737.5 V751 H519.4 V536 Q519.4,531.5 519.4,531.5" stroke-width="2"/>
<line x1="519.4" y1="557.7" x2="901" y2="557.7" stroke-width="2"/>
<line x1="519.4" y1="563.9" x2="901" y2="563.9" stroke-width="2"/>
<line x1="519.4" y1="572.6" x2="901" y2="572.6" stroke-width="2"/>
<line x1="519.4" y1="581.2" x2="901" y2="581.2" stroke-width="2"/>
<line x1="519.4" y1="589.9" x2="901" y2="589.9" stroke-width="2"/>
<line x1="519.4" y1="598.6" x2="901" y2="598.6" stroke-width="2"/>
<line x1="519.4" y1="607.2" x2="901" y2="607.2" stroke-width="2"/>
<line x1="519.4" y1="615.9" x2="901" y2="615.9" stroke-width="2"/>
<line x1="519.4" y1="624.5" x2="901" y2="624.5" stroke-width="2"/>
<line x1="519.4" y1="633.1" x2="901" y2="633.1" stroke-width="2"/>
<line x1="519.4" y1="641.8" x2="901" y2="641.8" stroke-width="2"/>
<line x1="519.4" y1="650.5" x2="901" y2="650.5" stroke-width="2"/>
<line x1="519.4" y1="659.1" x2="901" y2="659.1" stroke-width="2"/>
<line x1="519.4" y1="667.8" x2="901" y2="667.8" stroke-width="2"/>
<line x1="519.4" y1="676.4" x2="901" y2="676.4" stroke-width="2"/>
<line x1="519.4" y1="685.1" x2="901" y2="685.1" stroke-width="2"/>
<line x1="519.4" y1="693.7" x2="901" y2="693.7" stroke-width="2"/>
<line x1="519.4" y1="702.4" x2="901" y2="702.4" stroke-width="2"/>
<line x1="519.4" y1="711.0" x2="901" y2="711.0" stroke-width="2"/>
<line x1="519.4" y1="719.7" x2="901" y2="719.7" stroke-width="2"/>
<line x1="519.4" y1="723.8" x2="901" y2="723.8" stroke-width="2"/>
<path d="M901,579.5 H960 V610 H901" stroke-width="2"/>
<circle cx="938.5" cy="594.5" r="5.5" stroke-width="1.8"/>
<path d="M901,626.4 H960 V656.8 H901" stroke-width="2"/>
<circle cx="938.5" cy="641.4" r="5.5" stroke-width="1.8"/>
<path d="M901,672.6 H960 V703 H901" stroke-width="2"/>
<circle cx="938.5" cy="688" r="5.5" stroke-width="1.8"/>
<path d="M519.4,531.5 V513.5 M901.6,531.5 V513.5 M500.5,531.5 H519.4 M500.5,751 H519.4" stroke-width="1.8"/>
<path d="M523,519.4 H674 M748.5,519.4 H898.5" stroke-width="2"/>
<path d="M530,515 L523,519.4 L530,523.8 M891.5,515 L898.5,519.4 L891.5,523.8" stroke-width="2"/>
<path d="M506.6,537 V603.8 M506.6,677.5 V748" stroke-width="2"/>
<path d="M502.2,544 L506.6,536.5 L511,544 M502.2,741 L506.6,748.5 L511,741" stroke-width="2"/>
<path d="M903,563.5 L951.5,604.5" stroke-width="1.8"/>
<circle cx="938" cy="594" r="5.5" stroke-width="1.8"/>
<path d="M929,590 L933.8,590.5 L933.3,585.5 M947,598 L942.2,597.5 L942.7,602.5" stroke-width="1.5"/>
<path d="M960,672.6 H974.7 M960,703 H975 M968,675 V701 M964.5,679.5 L968,674.5 L971.5,679.5 M964.5,696.5 L968,701.5 L971.5,696.5 M960,703 V713" stroke-width="1.8"/>
<path d="M903,710.5 H958 M908,707 L903,710.5 L908,714 M953,707 L958,710.5 L953,714" stroke-width="1.8"/>
<path d="M519.4,751 V763 M572.6,737 V763 M710,737 V763" stroke-width="1.8"/>
<path d="M565.8,736.5 Q567.3,737 567.8,738.5 M580.1,736.5 Q578.6,737 578.1,738.5 M569.2,737.2 Q572.9,735.6 576.6,737.2" stroke-width="1.5"/>
<circle cx="572.8" cy="742.5" r="3" stroke-width="1.4"/>
<path d="M520.5,757 H571.5 M573.5,757 H709 M526,753.5 L520.5,757 L526,760.5 M566,753.5 L571.5,757 L566,760.5 M579,753.5 L573.5,757 L579,760.5 M703.5,753.5 L709,757 L703.5,760.5" stroke-width="1.8"/>
<path d="M575,746.8 H622" stroke-width="1.6"/>
</g>
<text x="681.8" y="524.6" font-size="16.3" fill="#6c2028" text-anchor="start" textLength="56" lengthAdjust="spacingAndGlyphs" stroke="#6c2028" stroke-width="0.3" >220mm</text>
<text transform="translate(512.3,641.3) rotate(-90)" font-size="15.6" fill="#6c2028" text-anchor="middle" textLength="55.5" lengthAdjust="spacingAndGlyphs" stroke="#6c2028" stroke-width="0.25">127mm</text>
<text transform="translate(904,556) rotate(40)" font-size="14.5" fill="#6c2028" textLength="37" lengthAdjust="spacingAndGlyphs" stroke="#6c2028" stroke-width="0.25">6mm</text>
<text transform="translate(985.6,688) rotate(-90)" font-size="15" fill="#6c2028" text-anchor="middle" textLength="45" lengthAdjust="spacingAndGlyphs" stroke="#6c2028" stroke-width="0.25">18mm</text>
<text x="907" y="727" font-size="15" fill="#6c2028" text-anchor="start" textLength="45.7" lengthAdjust="spacingAndGlyphs" stroke="#6c2028" stroke-width="0.3" >34mm</text>
<text x="523.5" y="777.3" font-size="15" fill="#6c2028" text-anchor="start" textLength="46.1" lengthAdjust="spacingAndGlyphs" stroke="#6c2028" stroke-width="0.3" >31mm</text>
<text x="620" y="777.3" font-size="15" fill="#6c2028" text-anchor="start" textLength="45" lengthAdjust="spacingAndGlyphs" stroke="#6c2028" stroke-width="0.3" >79mm</text>
<text x="582.8" y="743.2" font-size="15" fill="#6c2028" text-anchor="start" textLength="36" lengthAdjust="spacingAndGlyphs" stroke="#6c2028" stroke-width="0.3" >6mm</text>
<rect x="235.3" y="809.5" width="31.7" height="11" fill="#111"/>
<rect x="230" y="819.8" width="41.4" height="2.4" fill="#111"/>
<text x="279.5" y="823" font-size="22" fill="#111" text-anchor="start" font-weight="bold" textLength="52" lengthAdjust="spacingAndGlyphs" stroke="#111" stroke-width="0.5" >Side</text>
<rect x="676" y="803.3" width="31.6" height="20.3" rx="2.5" fill="#111"/>
<rect x="681.5" y="807.8" width="20.5" height="12" rx="2" fill="#111" stroke="#fff" stroke-width="1.6"/>
<circle cx="674.7" cy="813.9" r="3" fill="#fff" stroke="#111" stroke-width="2.2"/>
<circle cx="709.3" cy="813.9" r="3" fill="#fff" stroke="#111" stroke-width="2.2"/>
<text x="722.5" y="821.5" font-size="23" fill="#111" text-anchor="start" font-weight="bold" textLength="62.6" lengthAdjust="spacingAndGlyphs" stroke="#111" stroke-width="0.5" >Front</text>
</svg>
</body></html>
